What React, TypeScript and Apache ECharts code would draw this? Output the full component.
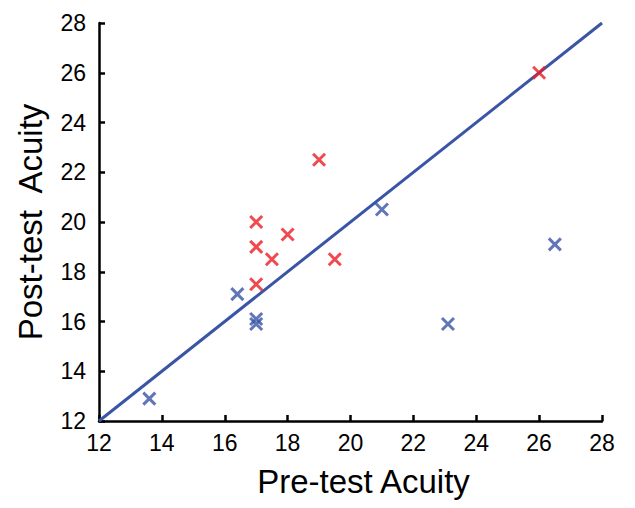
import React, { useEffect, useRef } from "react";
import * as echarts from "echarts";

const redPoints: number[][] = [
  [26, 26],
  [19, 22.5],
  [17, 20],
  [17, 19],
  [18, 19.5],
  [17.5, 18.5],
  [19.5, 18.5],
  [17, 17.5],
];

const bluePoints: number[][] = [
  [13.6, 12.9],
  [16.4, 17.1],
  [17, 16.1],
  [17, 15.9],
  [21, 20.5],
  [23.1, 15.9],
  [26.5, 19.1],
];

const identityLine: number[][] = [
  [12, 12],
  [28, 28],
];

const axisMin = 12;
const axisMax = 28;
const axisStep = 2;

const RED = "#ed1c24";
const BLUE = "#3a54a6";
const FONT = "Liberation Sans";
const CROSS = "path://M0,0L10,10M10,0L0,10";

export default function App() {
  const ref = useRef<HTMLDivElement>(null);
  useEffect(() => {
    if (!ref.current) return;
    const chart = echarts.init(ref.current, undefined, { renderer: "svg" });
    const axisCommon = {
      type: "value" as const,
      min: axisMin,
      max: axisMax,
      interval: axisStep,
      splitLine: { show: false },
      axisLine: { show: true, lineStyle: { color: "#000", width: 2.5 } },
      axisTick: { show: true, inside: true, length: 6, lineStyle: { color: "#000", width: 2.5 } },
      axisLabel: { color: "#000", fontFamily: FONT, fontSize: 23 },
      nameLocation: "middle" as const,
      nameTextStyle: { color: "#000", fontFamily: FONT, fontSize: 33 },
    };
    chart.setOption({
      animation: false,
      backgroundColor: "#fff",
      grid: { left: 99, right: 33, top: 23, bottom: 87, containLabel: false },
      xAxis: {
        ...axisCommon,
        name: "Pre-test Acuity",
        nameGap: 44,
        axisLabel: { ...axisCommon.axisLabel, margin: 10 },
        nameTextStyle: { ...axisCommon.nameTextStyle, padding: [0, 0, 0, 26] },
      },
      yAxis: {
        ...axisCommon,
        name: "Post-test  Acuity",
        nameGap: 52,
        axisLabel: { ...axisCommon.axisLabel, margin: 13 },
      },
      series: [
        {
          type: "line",
          data: identityLine,
          symbol: "none",
          lineStyle: { color: BLUE, width: 3 },
          z: 1,
        },
        {
          type: "scatter",
          data: bluePoints,
          symbol: CROSS,
          symbolSize: 12,
          itemStyle: { color: BLUE, borderColor: BLUE, borderWidth: 3 },
          z: 2,
        },
        {
          type: "scatter",
          data: redPoints,
          symbol: CROSS,
          symbolSize: 12,
          itemStyle: { color: RED, borderColor: RED, borderWidth: 3 },
          z: 3,
        },
      ],
    });
    return () => chart.dispose();
  }, []);
  return <div ref={ref} style={{ width: 635, height: 508, position: "fixed", left: 0, top: 0 }} />;
}
